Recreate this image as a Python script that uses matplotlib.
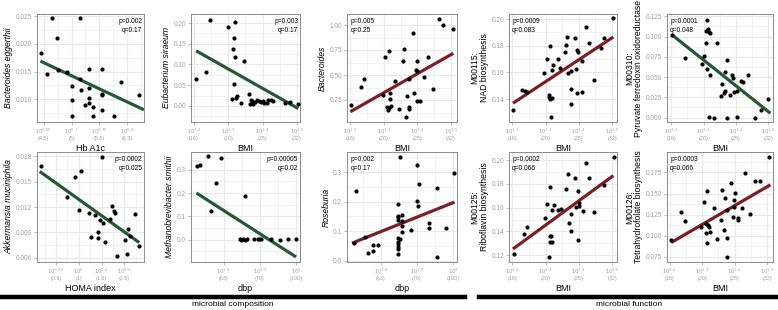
import numpy as np
import matplotlib.pyplot as plt

plt.rcParams['font.family'] = ['Liberation Sans', 'DejaVu Sans']

GREEN = '#245a33'
RED = '#7a1f24'
GRID = '#e8e8e8'
TICKC = '#a0a0a0'

# x values are the exponents shown on the log axes (10^x)
# x axes: tick exponent and the raw value printed under it
hba1c_ticks = [0.65, 0.70, 0.75, 0.80]
hba1c_raw = ['4.5', '5', '5.6', '6.3']
bmi_ticks = [1.2, 1.3, 1.4, 1.5]
bmi_raw = ['16', '20', '25', '32']
homa_ticks = [-0.2, 0.0, 0.2, 0.4]
homa_raw = ['0.6', '1', '1.6', '2.5']
dbp_ticks = [1.8, 1.9, 2.0]
dbp_raw = ['63', '79', '100']

# Bacteroides eggerthii vs Hb A1c
eggerthii_x = [0.665, 0.7155, 0.674, 0.646, 0.656, 0.675, 0.692, 0.7315, 0.754, 0.7155, 0.70, 0.717,
               0.7315, 0.788, 0.821, 0.754, 0.754, 0.7315, 0.70, 0.7315, 0.724, 0.739, 0.754, 0.776,
               0.70, 0.739]
eggerthii_y = [0.0246, 0.0246, 0.0211, 0.0184, 0.0146, 0.0152, 0.0150, 0.0154, 0.0155, 0.0136, 0.0124,
               0.0116, 0.0120, 0.0131, 0.0107, 0.0110, 0.0107, 0.0103, 0.0099, 0.0094, 0.0089, 0.0086,
               0.0080, 0.0069, 0.0070, 0.0070]
eggerthii_fit_x = [0.644, 0.830]
eggerthii_fit_y = [0.0169, 0.0081]

# Eubacterium siraeum vs BMI
siraeum_x = [1.247, 1.300, 1.320, 1.317, 1.315, 1.321, 1.347, 1.237, 1.207, 1.316, 1.325, 1.322, 1.312,
             1.337, 1.360, 1.366, 1.369, 1.371, 1.363, 1.378, 1.384, 1.391, 1.396, 1.400, 1.405, 1.412,
             1.417, 1.425, 1.430, 1.464, 1.479, 1.504]
siraeum_y = [0.207, 0.190, 0.202, 0.165, 0.137, 0.119, 0.109, 0.082, 0.064, 0.052, 0.025, 0.019, 0.017,
             0.008, 0.028, 0.015, 0.011, 0.005, 0.005, 0.009, 0.014, 0.011, 0.009, 0.011, 0.008, 0.008,
             0.013, 0.014, 0.011, 0.007, 0.010, 0.004]
siraeum_fit_x = [1.207, 1.504]
siraeum_fit_y = [0.133, -0.0065]

# Bacteroides vs BMI
bacteroides_x = [1.465, 1.477, 1.505, 1.388, 1.315, 1.302, 1.359, 1.358, 1.398, 1.431, 1.396, 1.400,
                 1.421, 1.240, 1.233, 1.334, 1.374, 1.446, 1.297, 1.317, 1.369, 1.389, 1.319, 1.398,
                 1.408, 1.203, 1.310, 1.322, 1.312, 1.315, 1.344, 1.374, 1.374, 1.366]
bacteroides_y = [1.057, 1.000, 0.957, 0.917, 0.743, 0.683, 0.757, 0.643, 0.640, 0.677, 0.550, 0.543,
                 0.483, 0.457, 0.383, 0.443, 0.463, 0.357, 0.300, 0.317, 0.293, 0.323, 0.257, 0.243,
                 0.243, 0.200, 0.177, 0.190, 0.150, 0.167, 0.160, 0.183, 0.157, 0.077]
bacteroides_fit_x = [1.200, 1.507]
bacteroides_fit_y = [0.133, 0.717]

# M00115 NAD biosynthesis vs BMI
nad_x = [1.504, 1.422, 1.366, 1.388, 1.314, 1.361, 1.430, 1.477, 1.467, 1.396, 1.399, 1.359, 1.303,
         1.336, 1.411, 1.321, 1.343, 1.319, 1.391, 1.296, 1.369, 1.376, 1.447, 1.376, 1.396, 1.411,
         1.230, 1.237, 1.245, 1.309, 1.311, 1.314, 1.319, 1.376, 1.316, 1.202]
nad_y = [0.2005, 0.1942, 0.1869, 0.1861, 0.1798, 0.1806, 0.1824, 0.1861, 0.1786, 0.1768, 0.1753, 0.1753,
         0.1698, 0.1698, 0.1685, 0.1655, 0.1637, 0.1622, 0.1627, 0.1597, 0.1597, 0.1610, 0.1546, 0.1476,
         0.1445, 0.1453, 0.1466, 0.1458, 0.1453, 0.1433, 0.1420, 0.1405, 0.1408, 0.1362, 0.1269, 0.1319]
nad_fit_x = [1.202, 1.504]
nad_fit_y = [0.137, 0.1866]

# M00310 Pyruvate ferredoxin oxidoreductase vs BMI
pfor_x = [1.202, 1.311, 1.314, 1.317, 1.307, 1.319, 1.341, 1.309, 1.243, 1.301, 1.295, 1.311, 1.319,
          1.372, 1.365, 1.388, 1.392, 1.439, 1.415, 1.423, 1.358, 1.365, 1.362, 1.355, 1.382, 1.395,
          1.403, 1.500, 1.477, 1.317, 1.332, 1.372, 1.405, 1.459]
pfor_y = [0.1023, 0.1209, 0.1093, 0.1060, 0.1064, 0.1044, 0.0920, 0.0916, 0.0730, 0.0755, 0.0660,
          0.0606, 0.0528, 0.0710, 0.0569, 0.0528, 0.0495, 0.0528, 0.0454, 0.0437, 0.0413, 0.0330,
          0.0301, 0.0268, 0.0280, 0.0314, 0.0330, 0.0227, 0.0095, 0.0008, 0.0, 0.0, 0.0008, 0.0]
pfor_fit_x = [1.202, 1.507]
pfor_fit_y = [0.1023, 0.0054]

# Akkermansia muciniphila vs HOMA index
akk_x = [-0.335, 0.200, 0.015, -0.035, -0.103, 0.003, 0.091, 0.147, 0.288, 0.312, 0.318, 0.494, 0.185,
         0.209, 0.279, 0.435, 0.165, 0.103, 0.171, 0.229, 0.406, 0.450, 0.532, 0.338, 0.421]
akk_y = [0.01688, 0.01792, 0.01628, 0.01552, 0.01320, 0.01168, 0.01128, 0.01108, 0.01208, 0.01152,
         0.01128, 0.01120, 0.01048, 0.01012, 0.01056, 0.00940, 0.00908, 0.00840, 0.00828, 0.00788,
         0.00812, 0.00860, 0.00740, 0.00620, 0.00648]
akk_fit_x = [-0.344, 0.532]
akk_fit_y = [0.0162, 0.0078]

# Methanobrevibacter smithii vs dbp
msmithii_x = [1.727, 1.734, 1.757, 1.794, 1.779, 1.766, 1.860, 1.845, 1.849, 1.854, 1.859, 1.865, 1.883,
              1.894, 1.899, 1.904, 1.932, 1.955, 1.977, 2.000]
msmithii_y = [0.316, 0.322, 0.357, 0.350, 0.244, 0.124, 0.187, 0.003, 0.000, 0.003, 0.000, 0.002, 0.003,
              0.003, 0.002, 0.004, 0.003, 0.000, 0.003, 0.003]
msmithii_fit_x = [1.725, 2.000]
msmithii_fit_y = [0.2004, -0.0733]

# Roseburia vs dbp
roseburia_x = [1.852, 1.900, 2.004, 1.731, 1.905, 1.956, 1.847, 1.900, 1.904, 1.847, 1.847, 1.858,
               1.847, 1.858, 1.858, 1.932, 1.932, 1.981, 1.884, 1.858, 1.756, 1.847, 1.852, 1.847,
               1.847, 1.847, 1.779, 1.793, 1.779, 1.765, 1.847, 1.847, 1.956, 1.725]
roseburia_y = [0.352, 0.323, 0.297, 0.235, 0.259, 0.247, 0.191, 0.203, 0.185, 0.152, 0.146, 0.155,
               0.138, 0.134, 0.117, 0.127, 0.111, 0.109, 0.102, 0.097, 0.081, 0.076, 0.073, 0.063,
               0.056, 0.047, 0.051, 0.051, 0.032, 0.024, 0.039, 0.022, 0.013, 0.061]
roseburia_fit_x = [1.720, 2.004]
roseburia_fit_y = [0.059, 0.198]

# M00125 Riboflavin biosynthesis vs BMI
ribo_x = [1.505, 1.422, 1.367, 1.390, 1.432, 1.314, 1.362, 1.397, 1.477, 1.304, 1.325, 1.320, 1.337,
          1.347, 1.297, 1.392, 1.400, 1.402, 1.412, 1.447, 1.377, 1.372, 1.377, 1.245, 1.234, 1.312,
          1.317, 1.312, 1.320, 1.397, 1.310, 1.204]
ribo_y = [0.2029, 0.1977, 0.1885, 0.1847, 0.1847, 0.1770, 0.1755, 0.1741, 0.1790, 0.1632, 0.1620,
          0.1580, 0.1583, 0.1588, 0.1517, 0.1609, 0.1612, 0.1637, 0.1568, 0.1563, 0.1545, 0.1468,
          0.1407, 0.1436, 0.1378, 0.1364, 0.1358, 0.1309, 0.1309, 0.1324, 0.1186, 0.1209]
ribo_fit_x = [1.202, 1.504]
ribo_fit_y = [0.1252, 0.187]

# M00126 Tetrahydrofolate biosynthesis vs BMI
thf_x = [1.505, 1.431, 1.464, 1.477, 1.388, 1.315, 1.361, 1.400, 1.305, 1.369, 1.397, 1.336, 1.375,
         1.397, 1.423, 1.236, 1.395, 1.411, 1.411, 1.447, 1.359, 1.246, 1.313, 1.318, 1.321, 1.298,
         1.313, 1.325, 1.316, 1.346, 1.367, 1.375, 1.205, 1.375]
thf_y = [0.1936, 0.1742, 0.1649, 0.1649, 0.1620, 0.1527, 0.1540, 0.1511, 0.1398, 0.1450, 0.1426,
         0.1329, 0.1305, 0.1345, 0.1325, 0.1276, 0.1224, 0.1207, 0.1183, 0.1256, 0.1183, 0.1175,
         0.1143, 0.1123, 0.1102, 0.1102, 0.1033, 0.1046, 0.0920, 0.0960, 0.1074, 0.0973, 0.0952,
         0.0750]
thf_fit_x = [1.205, 1.510]
thf_fit_y = [0.092, 0.1604]


def plot_panel(rect, x, y, fit_x, fit_y, color, ylabel, italic, xlabel, xticks, xraw, xlim,
               yticks, yfmt, ylim, p, q, stat_right):
    ax = fig.add_axes(rect)
    ax.set_xlim(xlim)
    ax.set_ylim(ylim)
    xstep = xticks[1] - xticks[0]
    ystep = yticks[1] - yticks[0]
    xminor = np.arange(xticks[0] - 2.5 * xstep, xticks[-1] + 3 * xstep, xstep)
    yminor = np.arange(yticks[0] - 2.5 * ystep, yticks[-1] + 3 * ystep, ystep)
    for v in xminor:
        ax.axvline(v, color=GRID, lw=0.4, zorder=0)
    for v in yminor:
        ax.axhline(v, color=GRID, lw=0.4, zorder=0)
    for v in xticks:
        ax.axvline(v, color=GRID, lw=0.8, zorder=0)
    for v in yticks:
        ax.axhline(v, color=GRID, lw=0.8, zorder=0)

    ax.scatter(x, y, s=9, color='black', zorder=3, linewidths=0)
    ax.plot(fit_x, fit_y, color=color, lw=2.3, zorder=2, solid_capstyle='butt')

    ax.set_xticks(xticks)
    ax.set_xticklabels(['$10^{%g}$\n(%s)' % (t, r) for t, r in zip(xticks, xraw)],
                       fontsize=3.9, color=TICKC, linespacing=1.0)
    ax.set_yticks(yticks)
    ax.set_yticklabels([yfmt % v for v in yticks], fontsize=4.7, color=TICKC)
    ax.tick_params(length=2, width=0.5, color=TICKC, pad=1.5)
    for s in ax.spines.values():
        s.set_color('#8c8c8c')
        s.set_linewidth(0.7)
    ax.set_xlabel(xlabel, fontsize=6.5, labelpad=2)
    ax.set_ylabel(ylabel, fontsize=6.2, style='italic' if italic else 'normal',
                  labelpad=2, linespacing=1.0)
    if stat_right:
        ax.text(0.985, 0.96, 'p=%s\nq=%s' % (p, q), transform=ax.transAxes, ha='right', va='top',
                fontsize=4.8, linespacing=1.4)
    else:
        ax.text(0.03, 0.96, 'p=%s\nq=%s' % (p, q), transform=ax.transAxes, ha='left', va='top',
                fontsize=4.8, linespacing=1.4)
    return ax


W, H = 778, 310
fig = plt.figure(figsize=(W / 100, H / 100), dpi=100)


def rect(l, r, t, b):
    return [l / W, 1 - b / H, (r - l) / W, (b - t) / H]


cols = [(37, 144), (191, 300), (347, 457), (509, 617), (667, 773)]
row1 = (14, 122)
row2 = (152, 262)

plot_panel(rect(*cols[0], *row1), eggerthii_x, eggerthii_y, eggerthii_fit_x, eggerthii_fit_y, GREEN,
           'Bacteroides eggerthii', True, 'Hb A1c', hba1c_ticks, hba1c_raw, (0.638, 0.830),
           [0.010, 0.015, 0.020, 0.025], '%.3f', (0.0059, 0.0254), '0.002', '0.17', True)
plot_panel(rect(*cols[1], *row1), siraeum_x, siraeum_y, siraeum_fit_x, siraeum_fit_y, GREEN,
           'Eubacterium siraeum', True, 'BMI', bmi_ticks, bmi_raw, (1.192, 1.509),
           [0.00, 0.05, 0.10, 0.15, 0.20], '%.2f', (-0.039, 0.222), '0.003', '0.17', True)
plot_panel(rect(*cols[2], *row1), bacteroides_x, bacteroides_y, bacteroides_fit_x, bacteroides_fit_y,
           RED, 'Bacteroides', True, 'BMI', bmi_ticks, bmi_raw, (1.19, 1.518),
           [0.25, 0.50, 0.75, 1.00], '%.2f', (0.03, 1.11), '0.005', '0.25', False)
plot_panel(rect(*cols[3], *row1), nad_x, nad_y, nad_fit_x, nad_fit_y, RED,
           'M00115:\nNAD biosynthesis', False, 'BMI', bmi_ticks, bmi_raw, (1.19, 1.515),
           [0.14, 0.16, 0.18, 0.20], '%.2f', (0.1229, 0.2038), '0.0009', '0.083', False)
plot_panel(rect(*cols[4], *row1), pfor_x, pfor_y, pfor_fit_x, pfor_fit_y, GREEN,
           'M00310:\nPyruvate ferredoxin oxidoreductase', False, 'BMI', bmi_ticks, bmi_raw,
           (1.187, 1.515), [0.000, 0.025, 0.050, 0.075, 0.100, 0.125], '%.3f', (-0.0054, 0.1279),
           '0.0001', '0.048', False)

plot_panel(rect(*cols[0], *row2), akk_x, akk_y, akk_fit_x, akk_fit_y, GREEN,
           'Akkermansia muciniphila', True, 'HOMA index', homa_ticks, homa_raw, (-0.368, 0.574),
           [0.006, 0.009, 0.012, 0.015, 0.018], '%.3f', (0.0055, 0.0185), '0.0002', '0.025', True)
plot_panel(rect(*cols[1], *row2), msmithii_x, msmithii_y, msmithii_fit_x, msmithii_fit_y, GREEN,
           'Methanobrevibacter smithii', True, 'dbp', dbp_ticks, dbp_raw, (1.71, 2.011),
           [0.0, 0.1, 0.2, 0.3], '%.1f', (-0.095, 0.376), '0.00005', '0.02', True)
plot_panel(rect(*cols[2], *row2), roseburia_x, roseburia_y, roseburia_fit_x, roseburia_fit_y, RED,
           'Roseburia', True, 'dbp', dbp_ticks, dbp_raw, (1.706, 2.011),
           [0.0, 0.1, 0.2, 0.3], '%.1f', (-0.005, 0.368), '0.002', '0.17', False)
plot_panel(rect(*cols[3], *row2), ribo_x, ribo_y, ribo_fit_x, ribo_fit_y, RED,
           'M00125:\nRiboflavin biosynthesis', False, 'BMI', bmi_ticks, bmi_raw, (1.19, 1.515),
           [0.12, 0.14, 0.16, 0.18, 0.20], '%.2f', (0.1142, 0.2069), '0.0002', '0.066', False)
plot_panel(rect(*cols[4], *row2), thf_x, thf_y, thf_fit_x, thf_fit_y, RED,
           'M00126:\nTetrahydrofolate biosynthesis', False, 'BMI', bmi_ticks, bmi_raw, (1.192, 1.518),
           [0.075, 0.100, 0.125, 0.150, 0.175], '%.3f', (0.0689, 0.1993), '0.0003', '0.066', False)

# group bars at the bottom
fig.add_artist(plt.Line2D([0, 465 / W], [1 - 297 / H] * 2, color='black', lw=3.2))
fig.add_artist(plt.Line2D([479 / W, 1], [1 - 297 / H] * 2, color='black', lw=3.2))
fig.text(233 / W, 1 - 305 / H, 'microbial composition', ha='center', va='center', fontsize=6)
fig.text(629 / W, 1 - 305 / H, 'microbial function', ha='center', va='center', fontsize=6)

fig.savefig('out.png', dpi=100)
